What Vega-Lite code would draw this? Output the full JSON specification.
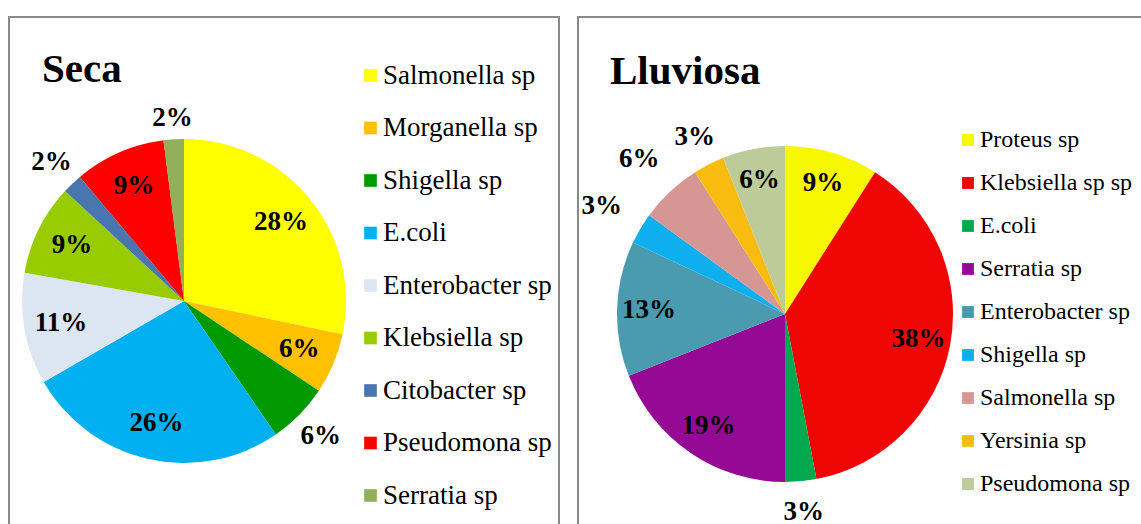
{
  "$schema": "https://vega.github.io/schema/vega-lite/v6.json",
  "padding": {"left": 8, "top": 16, "right": 0, "bottom": 0},
  "background": "white",
  "spacing": 17,
  "datasets": {
    "seca": [
      {"name": "Salmonella sp", "v": 0.28, "k": 1},
      {"name": "Morganella sp", "v": 0.06, "k": 2},
      {"name": "Shigella sp", "v": 0.06, "k": 3},
      {"name": "E.coli", "v": 0.26, "k": 4},
      {"name": "Enterobacter sp", "v": 0.11, "k": 5},
      {"name": "Klebsiella sp", "v": 0.09, "k": 6},
      {"name": "Citobacter sp", "v": 0.02, "k": 7},
      {"name": "Pseudomona sp", "v": 0.09, "k": 8},
      {"name": "Serratia sp", "v": 0.02, "k": 9}
    ],
    "lluviosa": [
      {"name": "Proteus sp", "v": 0.09, "k": 1},
      {"name": "Klebsiella sp sp", "v": 0.38, "k": 2},
      {"name": "E.coli", "v": 0.03, "k": 3},
      {"name": "Serratia sp", "v": 0.19, "k": 4},
      {"name": "Enterobacter sp", "v": 0.13, "k": 5},
      {"name": "Shigella sp", "v": 0.03, "k": 6},
      {"name": "Salmonella sp", "v": 0.06, "k": 7},
      {"name": "Yersinia sp", "v": 0.03, "k": 8},
      {"name": "Pseudomona sp", "v": 0.06, "k": 9}
    ]
  },
  "hconcat": [
    {
      "width": 550,
      "height": 510,
      "data": {"name": "seca"},
      "title": {"text": "Seca", "anchor": "start", "frame": "group", "font": "Liberation Serif", "fontSize": 41, "fontWeight": "bold", "color": "black", "offset": -74, "dx": 33},
      "layer": [
        {
          "mark": {"type": "arc", "outerRadius": 162, "stroke": null},
          "encoding": {
            "x": {"value": 175},
            "y": {"value": 284},
            "theta": {"field": "v", "type": "quantitative", "stack": true},
            "order": {"field": "k", "type": "quantitative"},
            "color": {
              "field": "name", "type": "nominal",
              "scale": {
                "domain": ["Salmonella sp", "Morganella sp", "Shigella sp", "E.coli", "Enterobacter sp", "Klebsiella sp", "Citobacter sp", "Pseudomona sp", "Serratia sp"],
                "range": ["#FFFF00", "#FFC000", "#009900", "#00B0F0", "#DCE6F2", "#99CC00", "#4A76B0", "#FF0000", "#92B05A"]
              },
              "legend": {"orient": "none", "legendX": 348, "legendY": 45, "title": null, "rowPadding": 24.5, "labelOffset": -1, "symbolSize": 160, "labelFontSize": 27}
            }
          }
        },
        {
          "mark": {"type": "text", "radius": 125, "clip": true, "font": "Liberation Serif", "fontWeight": "bold", "fontSize": 27, "color": "black"},
          "encoding": {
            "x": {"value": 175},
            "y": {"value": 284},
            "theta": {"field": "v", "type": "quantitative", "stack": true},
            "order": {"field": "k", "type": "quantitative"},
            "text": {"condition": {"test": "indexof(['Shigella sp','Citobacter sp','Serratia sp'], datum.name) < 0", "field": "v", "type": "quantitative", "format": ".0%"}, "value": ""}
          }
        },
        {
          "mark": {"type": "text", "radius": 192, "clip": true, "font": "Liberation Serif", "fontWeight": "bold", "fontSize": 27, "color": "black"},
          "encoding": {
            "x": {"value": 175},
            "y": {"value": 284},
            "theta": {"field": "v", "type": "quantitative", "stack": true},
            "order": {"field": "k", "type": "quantitative"},
            "text": {"condition": {"test": "indexof(['Shigella sp','Citobacter sp'], datum.name) >= 0", "field": "v", "type": "quantitative", "format": ".0%"}, "value": ""}
          }
        },
        {
          "mark": {"type": "text", "radius": 183, "clip": true, "font": "Liberation Serif", "fontWeight": "bold", "fontSize": 27, "color": "black"},
          "encoding": {
            "x": {"value": 175},
            "y": {"value": 284},
            "theta": {"field": "v", "type": "quantitative", "stack": true},
            "order": {"field": "k", "type": "quantitative"},
            "text": {"condition": {"test": "datum.name === 'Serratia sp'", "field": "v", "type": "quantitative", "format": ".0%"}, "value": ""}
          }
        }
      ]
    },
    {
      "width": 565,
      "height": 510,
      "data": {"name": "lluviosa"},
      "title": {"text": "Lluviosa", "anchor": "start", "frame": "group", "font": "Liberation Serif", "fontSize": 41, "fontWeight": "bold", "color": "black", "offset": -76, "dx": 32},
      "layer": [
        {
          "mark": {"type": "arc", "outerRadius": 168, "stroke": null},
          "encoding": {
            "x": {"value": 207},
            "y": {"value": 297},
            "theta": {"field": "v", "type": "quantitative", "stack": true},
            "order": {"field": "k", "type": "quantitative"},
            "color": {
              "field": "name", "type": "nominal",
              "scale": {
                "domain": ["Proteus sp", "Klebsiella sp sp", "E.coli", "Serratia sp", "Enterobacter sp", "Shigella sp", "Salmonella sp", "Yersinia sp", "Pseudomona sp"],
                "range": ["#F7F700", "#F00505", "#00A84E", "#940A94", "#4A9AB0", "#0DB0EC", "#D69794", "#F8BC10", "#BCCB98"]
              },
              "legend": {"orient": "none", "legendX": 378, "legendY": 111, "title": null, "rowPadding": 19, "labelOffset": 0, "symbolSize": 140, "labelFontSize": 24}
            }
          }
        },
        {
          "mark": {"type": "text", "radius": 136, "clip": true, "font": "Liberation Serif", "fontWeight": "bold", "fontSize": 27, "color": "black"},
          "encoding": {
            "x": {"value": 207},
            "y": {"value": 297},
            "theta": {"field": "v", "type": "quantitative", "stack": true},
            "order": {"field": "k", "type": "quantitative"},
            "text": {"condition": {"test": "indexof(['E.coli','Shigella sp','Salmonella sp','Yersinia sp'], datum.name) < 0", "field": "v", "type": "quantitative", "format": ".0%"}, "value": ""}
          }
        },
        {
          "mark": {"type": "text", "radius": 199, "clip": true, "font": "Liberation Serif", "fontWeight": "bold", "fontSize": 27, "color": "black"},
          "encoding": {
            "x": {"value": 207},
            "y": {"value": 297},
            "theta": {"field": "v", "type": "quantitative", "stack": true},
            "order": {"field": "k", "type": "quantitative"},
            "text": {"condition": {"test": "indexof(['E.coli','Yersinia sp'], datum.name) >= 0", "field": "v", "type": "quantitative", "format": ".0%"}, "value": ""}
          }
        },
        {
          "mark": {"type": "text", "radius": 213, "clip": true, "font": "Liberation Serif", "fontWeight": "bold", "fontSize": 27, "color": "black"},
          "encoding": {
            "x": {"value": 207},
            "y": {"value": 297},
            "theta": {"field": "v", "type": "quantitative", "stack": true},
            "order": {"field": "k", "type": "quantitative"},
            "text": {"condition": {"test": "indexof(['Shigella sp','Salmonella sp'], datum.name) >= 0", "field": "v", "type": "quantitative", "format": ".0%"}, "value": ""}
          }
        }
      ]
    }
  ],
  "resolve": {"scale": {"color": "independent", "theta": "independent"}, "legend": {"color": "independent"}},
  "config": {
    "view": {"stroke": "#8a8a8a", "strokeWidth": 2},
    "legend": {"symbolType": "square", "symbolStrokeWidth": 0, "labelFont": "Liberation Serif", "labelColor": "black", "labelLimit": 400},
    "font": "Liberation Serif"
  }
}
